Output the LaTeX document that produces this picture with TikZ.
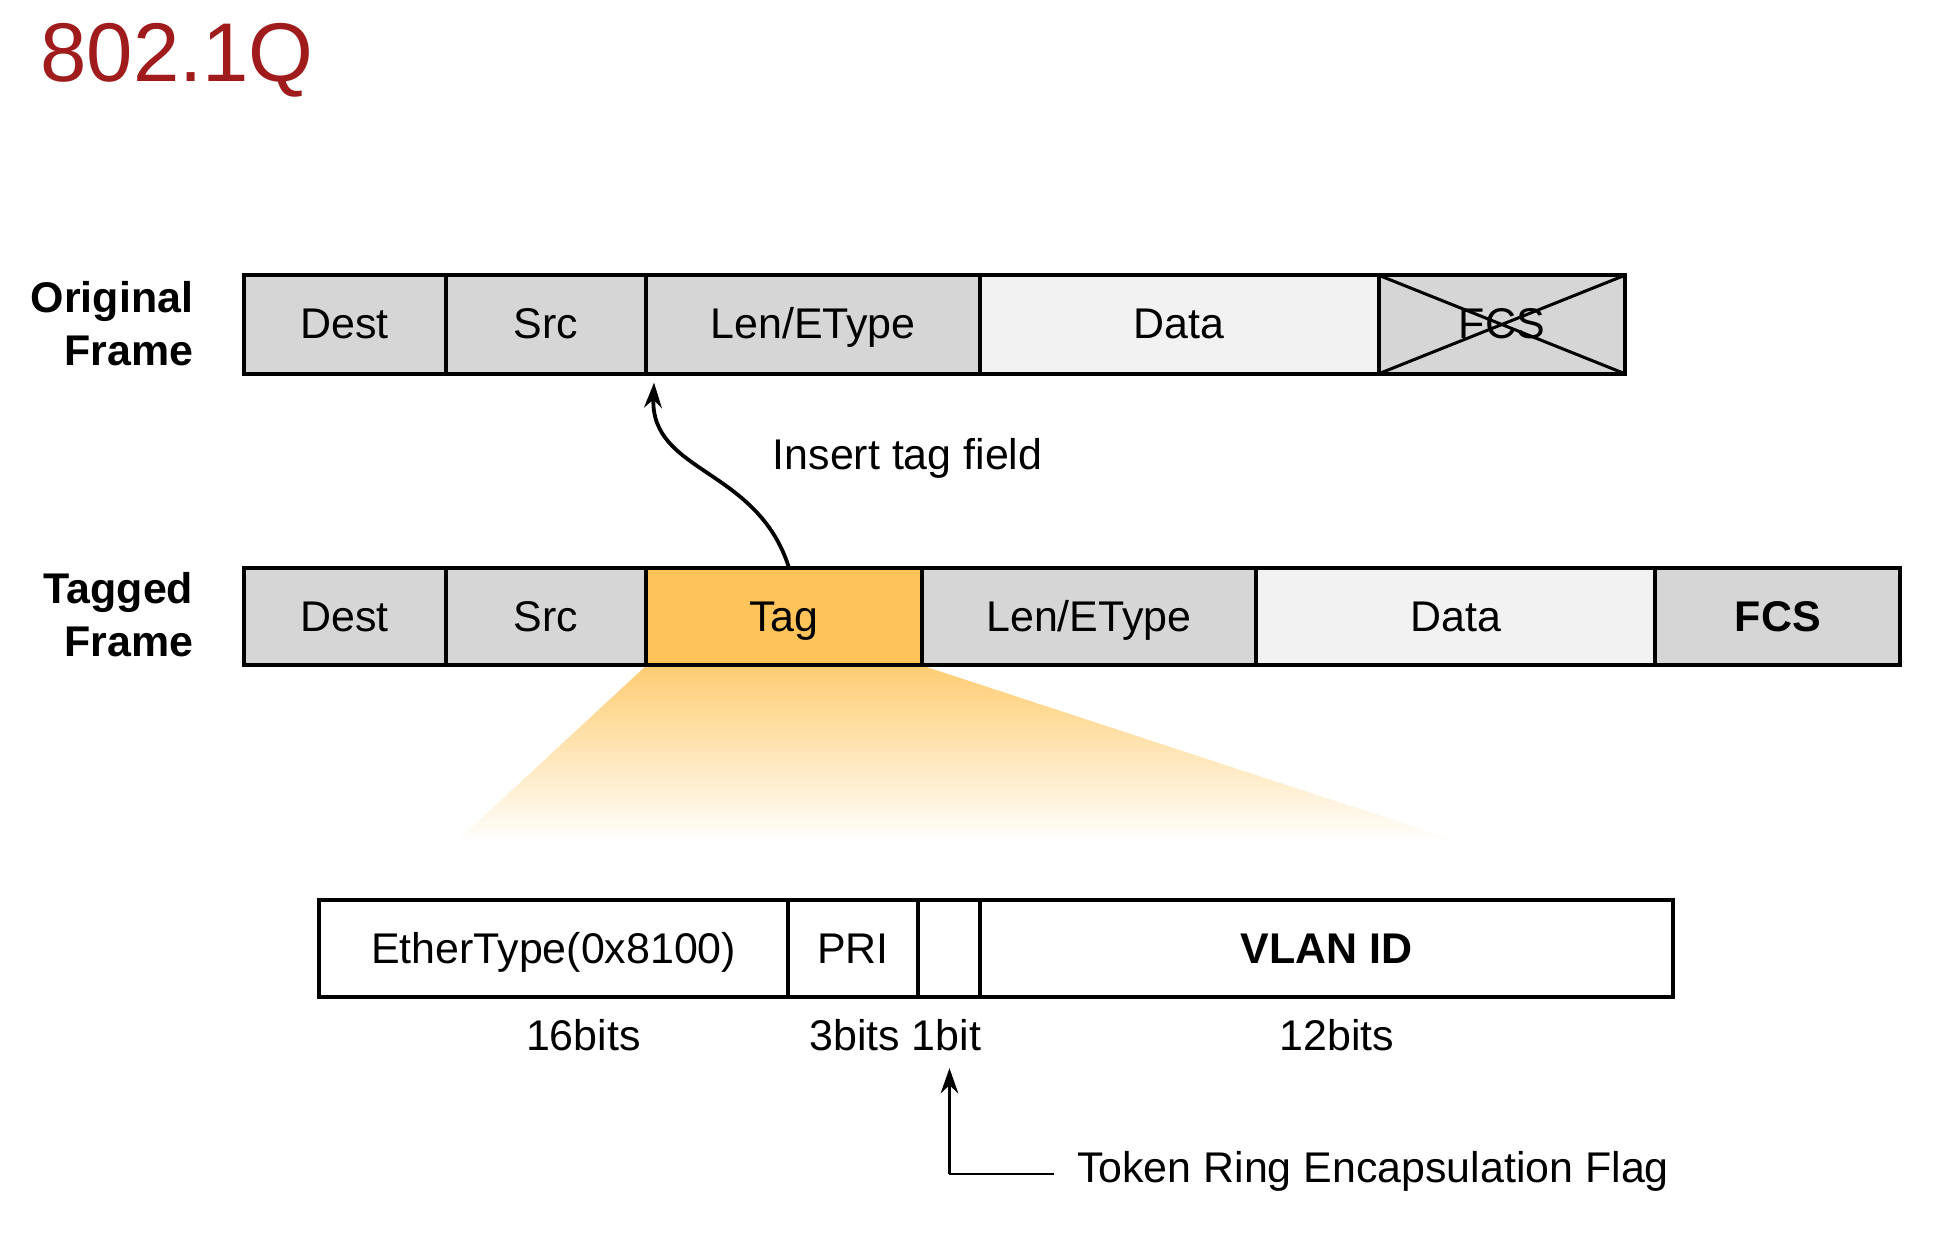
\documentclass[tikz,border=0pt]{standalone}
\usepackage{fontspec}
\setmainfont{Liberation Sans}
\usetikzlibrary{arrows.meta,shadings}
\definecolor{fgray}{RGB}{214,214,214}
\definecolor{flight}{RGB}{242,242,242}
\definecolor{ftag}{RGB}{254,196,90}
\definecolor{ttl}{RGB}{160,28,28}
\begin{document}
\begin{tikzpicture}[x=0.5pt,y=-0.5pt,
  fld/.style={draw=black,line width=1.6pt,fill=fgray,font=\fontsize{17}{20}\selectfont},
  lbl/.style={font=\fontsize{17}{20}\selectfont},
  fixt/.style={text height=1.6ex,text depth=.4ex,inner sep=0pt,yshift=-2.5pt},
  rowlbl/.style={font=\bfseries\fontsize{17}{21}\selectfont,align=right,anchor=east},
  arr/.style={-{Stealth[length=10pt,width=7pt]},line width=1.5pt}]
\useasboundingbox (0,0) rectangle (1550,986);
\node[text=ttl,font=\fontsize{33}{36}\selectfont,anchor=west] (title) at (25,48) {802.1Q};
% fan
\shade[top color=ftag!85,bottom color=white] (512,527) -- (730,527) -- (1160,668) -- (360,668) -- cycle;
\fill[white] (300,668) rectangle (1200,700);
% original
\node[rowlbl] (ol) at (160,256) {Original\\Frame};
\draw[fld] (193,218) rectangle node[fixt] (o1){Dest} (353,296);
\draw[fld] (353,218) rectangle node[fixt] (o2){Src} (512,296);
\draw[fld] (512,218) rectangle node[fixt] (o3){Len/EType} (776,296);
\draw[fld,fill=flight] (776,218) rectangle node[fixt] (o4){Data} (1092,296);
\draw[fld] (1092,218) rectangle node[fixt] (o5){FCS} (1287,296);
\draw[line width=1.2pt] (1092,218) -- (1287,296) (1092,296) -- (1287,218);
% tagged
\node[rowlbl] (tl) at (160,487) {Tagged\\Frame};
\draw[fld] (193,450) rectangle node[fixt] (t1){Dest} (353,527);
\draw[fld] (353,450) rectangle node[fixt] (t2){Src} (512,527);
\draw[fld,fill=ftag] (512,450) rectangle node[fixt] (t3){Tag} (730,527);
\draw[fld] (730,450) rectangle node[fixt] (t4){Len/EType} (995,527);
\draw[fld,fill=flight] (995,450) rectangle node[fixt] (t5){Data} (1311,527);
\draw[fld] (1311,450) rectangle node[fixt,font=\bfseries\fontsize{17}{20}\selectfont] (t6){FCS} (1505,527);
\coordinate (tagtop) at (625,450);
\coordinate (ins) at (518,303);
\draw[arr] (tagtop) .. controls (600,370) and (515,375) .. (ins);
\node[lbl,anchor=west] (it) at (605,363) {Insert tag field};
% detail
\draw[fld,fill=white] (253,713) rectangle node[fixt] (d1){EtherType(0x8100)} (624,790);
\draw[fld,fill=white] (624,713) rectangle node[fixt] (d2){PRI} (727,790);
\draw[fld,fill=white] (727,713) rectangle (776,790);
\draw[fld,fill=white] (776,713) rectangle node[fixt,font=\bfseries\fontsize{17}{20}\selectfont] (d4){VLAN ID} (1325,790);
\node[lbl] (b1) at (462,820) {16bits};
\node[lbl] (b2) at (709,820) {3bits 1bit};
\node[lbl] (b3) at (1059,820) {12bits};
\node[lbl,anchor=west] (tr) at (846,928) {Token Ring Encapsulation Flag};
\coordinate (tc) at (752,930);
\coordinate (tu) at (752,846);
\draw[line width=1pt] (835,930) -- (tc);
\draw[arr,line width=1pt] (tc) -- (tu);
\end{tikzpicture}
\end{document}
